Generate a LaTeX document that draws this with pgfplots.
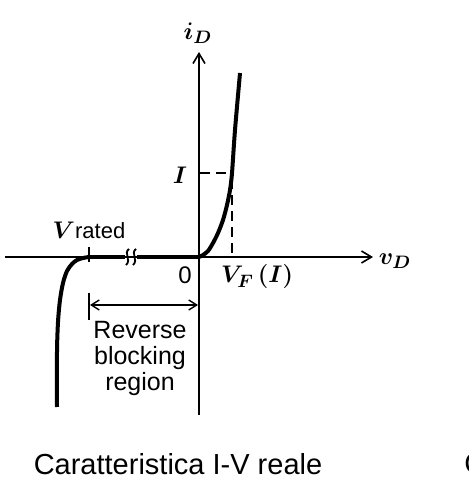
\documentclass[border=0pt]{standalone}
\usepackage{pgfplots}
\pgfplotsset{compat=1.18}
\usepackage{bm}
\usepackage{fontspec}
\setsansfont{Liberation Sans}
\usetikzlibrary{arrows.meta}
\begin{document}
\begin{tikzpicture}
\begin{axis}[at={(0,0)}, anchor=south west, scale only axis,
  width=234pt, height=240pt,
  xmin=-199, xmax=269, ymin=-223, ymax=257,
  hide axis, clip=false]
% axes
\draw[line width=0.8pt, -{Straight Barb[length=5pt,width=6pt]}] (axis cs:0,-158) -- (axis cs:0,205);
\draw[line width=0.8pt, -{Straight Barb[length=5pt,width=6pt]}] (axis cs:-194,0) -- (axis cs:174,0);
% forward characteristic
\addplot[black, line width=2pt, smooth] coordinates {
(0,0) (4,2) (9,6) (14,14) (19,24) (24,37) (28,52) (31,67) (33,84) (36,127) (41,184)};
% reverse characteristic
\addplot[black, line width=2pt, smooth] coordinates {
(-110,0) (-116,-1) (-122,-3) (-127,-7) (-132,-14) (-136,-26) (-139,-43) (-141,-65) (-142,-95) (-142,-150)};
\addplot[black, line width=1.6pt] coordinates {(-110,0) (-74,0)};
\addplot[black, line width=1.6pt] coordinates {(-62,0) (0,0)};
% break marks
\draw[line width=0.9pt] (axis cs:-70,8) .. controls (axis cs:-76,4) and (axis cs:-67,-3) .. (axis cs:-73,-8);
\draw[line width=0.9pt] (axis cs:-63,8) .. controls (axis cs:-69,4) and (axis cs:-60,-3) .. (axis cs:-66,-8);
% V rated ticks
\draw[line width=1pt] (axis cs:-110,10) -- (axis cs:-110,-5);
\draw[line width=1pt] (axis cs:-110,-36) -- (axis cs:-110,-63);
\draw[line width=0.7pt, {Straight Barb[length=4pt,width=5pt]}-{Straight Barb[length=4pt,width=5pt]}] (axis cs:-109,-48) -- (axis cs:-1,-48);
% dashed guides
\draw[line width=0.8pt, dash pattern=on 5pt off 3pt] (axis cs:1,84) -- (axis cs:32,84);
\draw[line width=0.8pt, dash pattern=on 5pt off 3pt] (axis cs:33,78) -- (axis cs:33,0);
% labels
\node at (axis cs:-1,224) {\fontsize{13}{15}\selectfont $\bm{i_D}$};
\node at (axis cs:196,-4) {\fontsize{13}{15}\selectfont $\bm{v_D}$};
\node at (axis cs:-19,82) {\fontsize{13}{15}\selectfont $\bm{I}$};
\node at (axis cs:-14,-18) {\fontsize{12}{14}\selectfont\sffamily 0};
\node at (axis cs:58,-20) {\fontsize{13}{15}\selectfont $\bm{V_F\,(I)}$};
\node at (axis cs:-110,27) {\fontsize{13}{15}\selectfont $\bm{V}$\sffamily\fontsize{11}{13}\selectfont rated};
\node[align=center, font=\sffamily\fontsize{12.5}{13}\selectfont] at (axis cs:-59,-101) {Reverse\\blocking\\region};
\node at (axis cs:-21,-207) {\sffamily\fontsize{14.5}{16}\selectfont Caratteristica I-V reale};
\node[anchor=west, inner sep=0pt] at (axis cs:265,-207) {\sffamily\fontsize{14.5}{16}\selectfont C};
\end{axis}
\pgfresetboundingbox
\useasboundingbox (0,0) rectangle (234pt,240pt);
\end{tikzpicture}
\end{document}
